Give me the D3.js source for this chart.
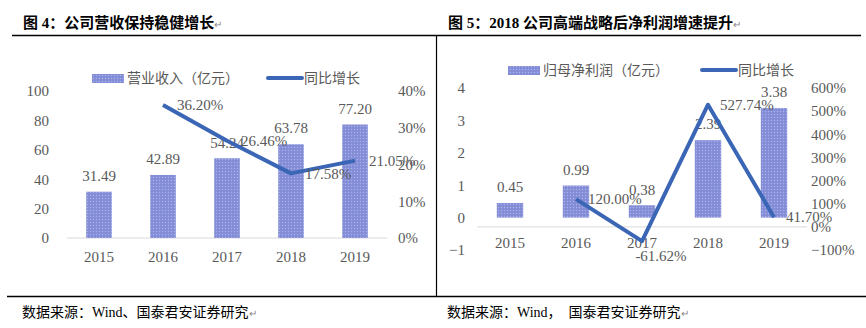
<!DOCTYPE html>
<html><head><meta charset="utf-8">
<script src="https://cdn.jsdelivr.net/npm/d3@7"></script>
<style>body{margin:0;background:#fff}svg{display:block}</style>
</head><body>
<svg id="c" width="866" height="328"></svg>
<script>
// ---- data ----
const years = ["2015","2016","2017","2018","2019"];
const revenue = [31.49, 42.89, 54.24, 63.78, 77.20];
const revenueGrowth = [null, 0.3620, 0.2646, 0.1758, 0.2105];
const profit = [0.45, 0.99, 0.38, 2.39, 3.38];
const profitGrowth = [null, 1.2000, -0.6162, 5.2774, 0.4170];
const leftTicks = [0, 20, 40, 60, 80, 100];
const leftTicksR = [0, 0.1, 0.2, 0.3, 0.4];
const rightTicks = [-1, 0, 1, 2, 3, 4];
const rightTicksR = [-1, 0, 1, 2, 3, 4, 5, 6];
const title1 = "图 4：公司营收保持稳健增长";
const title2 = "图 5：2018 公司高端战略后净利润增速提升";
const legend1 = ["营业收入（亿元）", "同比增长"];
const legend2 = ["归母净利润（亿元）", "同比增长"];
const source1 = "数据来源：Wind、国泰君安证券研究";
const source2 = "数据来源：Wind，  国泰君安证券研究";

const svg = d3.select("#c");
const SERIF = "'Liberation Serif','Times New Roman',serif";
const CJK = "'Liberation Serif','Noto Sans CJK SC',sans-serif";
const GRAY = "#595959";
const BAR = "#8891d8";
const LINE = "#3a66b5";

// pattern for bars
const defs = svg.append("defs");
const pat = defs.append("pattern").attr("id","dots").attr("width",3).attr("height",3).attr("patternUnits","userSpaceOnUse");
pat.append("rect").attr("width",3).attr("height",3).attr("fill",BAR);
pat.append("rect").attr("x",0).attr("y",0).attr("width",1).attr("height",1).attr("fill","#aab3ee");
pat.append("rect").attr("x",1.5).attr("y",1.5).attr("width",1).attr("height",1).attr("fill","#7480cc");

// frame lines
svg.append("line").attr("x1",12).attr("x2",861).attr("y1",35.5).attr("y2",35.5).attr("stroke","#000").attr("stroke-width",1.5);
svg.append("line").attr("x1",436.5).attr("x2",436.5).attr("y1",35).attr("y2",296).attr("stroke","#000").attr("stroke-width",1.2);
svg.append("line").attr("x1",7).attr("x2",866).attr("y1",296.5).attr("y2",296.5).attr("stroke","#000").attr("stroke-width",1.5);

// titles
function title(x, t){
  const g = svg.append("text").attr("x",x).attr("y",28).attr("font-family",CJK).attr("font-weight","bold").attr("font-size",15).attr("fill","#000");
  g.append("tspan").text(t);
  g.append("tspan").text("↵").attr("font-size",10).attr("font-weight","normal").attr("fill","#888");
}
title(23, title1);
title(448, title2);

function footer(x, t){
  const g = svg.append("text").attr("x",x).attr("y",317).attr("font-family",CJK).attr("font-size",14).attr("fill","#000").style("white-space","pre");
  g.append("tspan").text(t);
  g.append("tspan").text("↵").attr("font-size",10).attr("fill","#888");
}
footer(22, source1);
footer(447, source2);

function legend(y, x0, x1, labels){
  svg.append("rect").attr("x",x0).attr("y",y-4).attr("width",32).attr("height",9).attr("fill","url(#dots)");
  svg.append("text").attr("x",x0+35).attr("y",y).attr("dy","0.35em").attr("font-family","'Noto Sans CJK SC',sans-serif").attr("font-size",14).attr("fill",GRAY).text(labels[0]);
  svg.append("line").attr("x1",x1).attr("x2",x1+34).attr("y1",y).attr("y2",y).attr("stroke",LINE).attr("stroke-width",4).attr("stroke-linecap","round");
  svg.append("text").attr("x",x1+36).attr("y",y).attr("dy","0.35em").attr("font-family","'Noto Sans CJK SC',sans-serif").attr("font-size",14).attr("fill",GRAY).text(labels[1]);
}

function chart(o){
  const x = d3.scaleBand().domain(years).range(o.xr).paddingInner(0.6).paddingOuter(0.3);
  const yL = d3.scaleLinear().domain(o.yLd).range(o.yr);
  const yR = d3.scaleLinear().domain(o.yRd).range(o.yr);
  const g = svg.append("g");
  const axL = d3.axisLeft(yL).tickValues(o.ticksL).tickSize(0).tickPadding(0).tickFormat(d3.format("d"));
  const gl = g.append("g").attr("transform",`translate(${o.lx},0)`).call(axL);
  gl.select(".domain").remove();
  gl.selectAll("text").attr("font-family",SERIF).attr("font-size",15).attr("fill",GRAY);
  const axR = d3.axisRight(yR).tickValues(o.ticksR).tickSize(0).tickPadding(0).tickFormat(d3.format(".0%"));
  const gr = g.append("g").attr("transform",`translate(${o.rx},0)`).call(axR);
  gr.select(".domain").remove();
  gr.selectAll("text").attr("font-family",SERIF).attr("font-size",15).attr("fill",GRAY);
  const by = o.baseRight ? yR(0) : yL(0);
  g.append("line").attr("x1",o.xr[0]).attr("x2",o.xr[1]).attr("y1",by).attr("y2",by).attr("stroke","#d9d9d9").attr("stroke-width",1);
  const axB = d3.axisBottom(x).tickSize(0).tickPadding(0);
  const gb = g.append("g").attr("transform",`translate(0,${o.catY})`).call(axB);
  gb.select(".domain").remove();
  gb.selectAll("text").attr("font-family",SERIF).attr("font-size",15).attr("fill",GRAY).attr("dy","0.35em").attr("y",0);
  g.selectAll("rect.bar").data(o.bars).join("rect").attr("class","bar")
    .attr("x",(d,i)=>x(years[i])).attr("width",x.bandwidth())
    .attr("y",d=>yL(Math.max(0,d))).attr("height",d=>Math.abs(yL(d)-yL(0)))
    .attr("fill","url(#dots)");
  g.selectAll("text.bl").data(o.bars).join("text").attr("class","bl")
    .attr("x",(d,i)=>x(years[i])+x.bandwidth()/2).attr("y",d=>yL(d)-16).attr("dy","0.35em")
    .attr("text-anchor","middle").attr("font-family",SERIF).attr("font-size",15).attr("fill",GRAY)
    .text(d=>d.toFixed(2));
  const pts = o.line.map((v,i)=>({v,i})).filter(d=>d.v!==null);
  const cx = d=>x(years[d.i])+x.bandwidth()/2;
  g.append("path").datum(pts).attr("fill","none").attr("stroke",LINE).attr("stroke-width",4).attr("stroke-linejoin","round")
    .attr("d",d3.line().x(cx).y(d=>yR(d.v)));
  g.selectAll("text.ll").data(pts).join("text").attr("class","ll")
    .attr("x",d=> d.v<0 ? cx(d)+19 : cx(d)+o.lblOff)
    .attr("y",d=> d.v<0 ? yR(d.v)+15 : yR(d.v)).attr("dy","0.35em")
    .attr("text-anchor",d=> d.v<0 ? "middle" : "start")
    .attr("font-family",SERIF).attr("font-size",15).attr("fill",GRAY)
    .text(d=>(d.v*100).toFixed(2)+"%");
}

legend(78, 92, 268, legend1);
legend(70, 508, 702, legend2);

chart({xr:[67,387], yr:[238,91], yLd:[0,100], yRd:[0,0.4], ticksL:leftTicks, ticksR:leftTicksR,
  lx:49, rx:398, catY:257, bars:revenue, line:revenueGrowth, lblOff:14, baseRight:false});
chart({xr:[477,807], yr:[250,88], yLd:[-1,4], yRd:[-1,6], ticksL:rightTicks, ticksR:rightTicksR,
  lx:465, rx:811, catY:243, bars:profit, line:profitGrowth, lblOff:12, baseRight:true});
</script>
</body></html>
